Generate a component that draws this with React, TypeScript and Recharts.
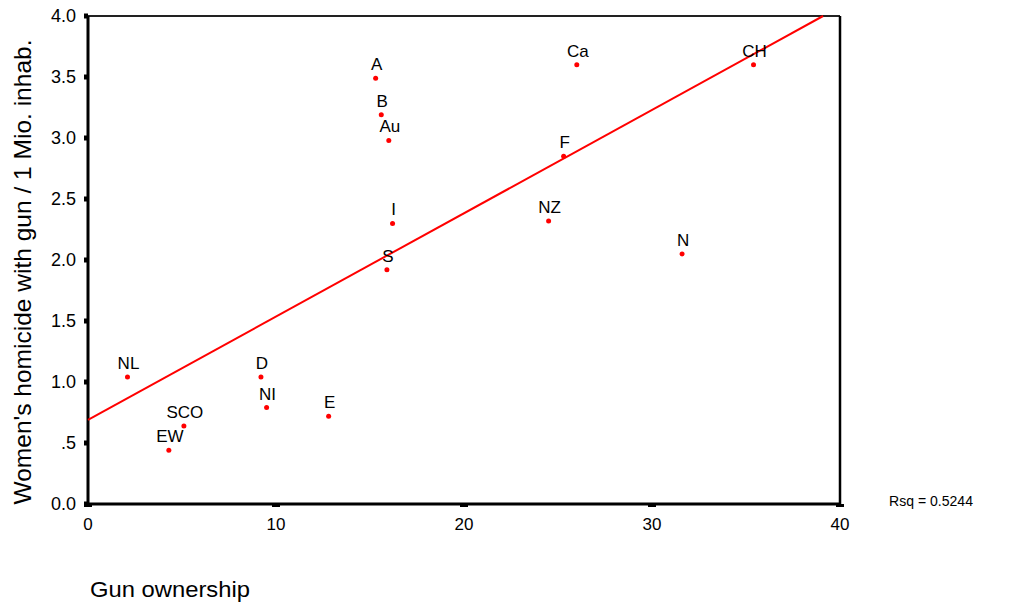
import React from 'react'
import {
    ComposedChart,
    Scatter,
    XAxis,
    YAxis,
    LabelList,
    ReferenceLine
} from "recharts";

// countries
const countries = ["NL", "EW", "SCO", "D", "NI", "E", "A", "B", "Au", "I", "S", "Ca", "F", "NZ", "N", "CH"];
// gun ownership (%)
const gunOwnership = [2.1, 4.3, 5.1, 9.2, 9.5, 12.8, 15.3, 15.6, 16.0, 16.2, 15.9, 26.0, 25.3, 24.5, 31.6, 35.4];
// women's homicide with gun per 1 mio inhabitants
const homicide = [1.04, 0.44, 0.64, 1.04, 0.79, 0.72, 3.49, 3.19, 2.98, 2.30, 1.92, 3.60, 2.85, 2.32, 2.05, 3.60];

// fitted regression line (end points)
const fitX = [0, 39.1];
const fitY = [0.69, 4.0];

const xTicks = [0, 10, 20, 30, 40];
const yTicks = [0, 0.5, 1, 1.5, 2, 2.5, 3, 3.5, 4];

const points = countries.map((c, i) => ({ name: c, x: gunOwnership[i], y: homicide[i] }));
const fitLine = fitX.map((x, i) => ({ x, y: fitY[i] }));

const font = "'Liberation Sans', Arial, sans-serif";

const Dot = (props: any) => <circle cx={props.cx} cy={props.cy} r={2.5} fill="#ff0000" />;

const PointLabel = (props: any) => {
    const vb = props.viewBox || {};
    const cx = vb.x + (vb.width || 0) / 2;
    const cy = vb.y + (vb.height || 0) / 2;
    return (
        <text x={cx + 1} y={cy - 8} textAnchor="middle" fontSize={17} fill="#000" fontFamily={font}>
            {props.value}
        </text>
    );
};

const App = () => {
    return (
        <div style={{ position: 'absolute', left: 0, top: 0, width: 1011, height: 606, background: '#fff', fontFamily: font }}>
            <ComposedChart
                width={1011}
                height={606}
                margin={{ top: 16, right: 171, left: 0, bottom: 72 }}
            >
                <XAxis
                    type="number"
                    dataKey="x"
                    domain={[0, 40]}
                    ticks={xTicks}
                    height={30}
                    tickSize={3}
                    tickLine={{ stroke: '#000', strokeWidth: 8 }}
                    axisLine={{ stroke: '#000', strokeWidth: 3 }}
                    tick={{ fill: '#000', fontSize: 17, fontFamily: font, dy: 9 }}
                />
                <YAxis
                    type="number"
                    dataKey="y"
                    domain={[0, 4]}
                    ticks={yTicks}
                    width={88}
                    tickSize={4}
                    tickLine={{ stroke: '#000', strokeWidth: 5 }}
                    axisLine={{ stroke: '#000', strokeWidth: 3 }}
                    tick={{ fill: '#000', fontSize: 18, fontFamily: font, dx: -6 }}
                    tickFormatter={(v: number) => (v === 0.5 ? '.5' : v.toFixed(1))}
                />
                <ReferenceLine y={4} stroke="#222" strokeWidth={2} />
                <ReferenceLine x={40} stroke="#000" strokeWidth={2.5} />
                <Scatter
                    data={fitLine}
                    line={{ stroke: '#ff0000', strokeWidth: 2 }}
                    shape={() => <g />}
                    isAnimationActive={false}
                />
                <Scatter data={points} shape={<Dot />} isAnimationActive={false}>
                    <LabelList dataKey="name" content={<PointLabel />} />
                </Scatter>
            </ComposedChart>
            <svg width={1011} height={606} style={{ position: 'absolute', left: 0, top: 0, pointerEvents: 'none' }}>
                <text
                    transform="translate(31, 272) rotate(-90)"
                    textAnchor="middle"
                    fontSize={24}
                    fontFamily={font}
                    fill="#000"
                    textLength={465}
                    lengthAdjust="spacingAndGlyphs"
                >
                    Women's homicide with gun / 1 Mio. inhab.
                </text>
                <text x={90} y={597} fontSize={22} fontFamily={font} fill="#000" textLength={160} lengthAdjust="spacingAndGlyphs">Gun ownership</text>
                <text x={889} y={506} fontSize={15} fontFamily={font} fill="#000" textLength={84} lengthAdjust="spacingAndGlyphs">Rsq = 0.5244</text>
            </svg>
        </div>
    )
}

export default App
